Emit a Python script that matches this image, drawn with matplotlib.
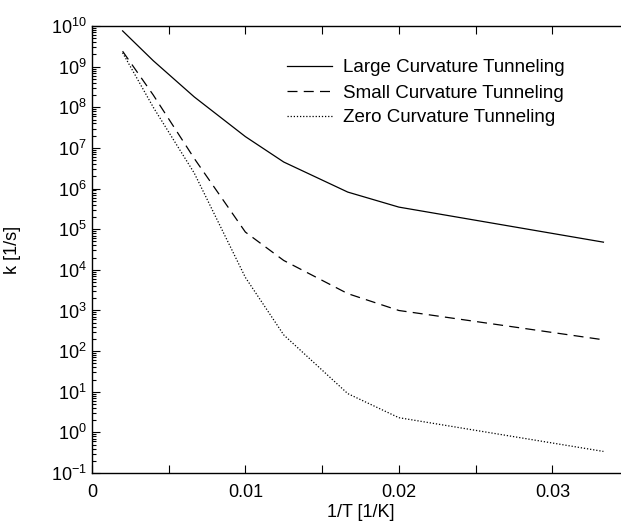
import matplotlib
matplotlib.use("Agg")
import matplotlib.pyplot as plt
from matplotlib.ticker import LogLocator, MultipleLocator, NullFormatter

plt.rcParams["font.family"] = ["Liberation Sans", "DejaVu Sans"]
plt.rcParams["mathtext.fontset"] = "custom"
plt.rcParams["mathtext.rm"] = "Liberation Sans"
plt.rcParams["mathtext.it"] = "Liberation Sans:italic"

inv_t = [0.002, 0.004, 0.00667, 0.01, 0.0125, 0.01667, 0.02, 0.03333]
large_ct = [7.6e9, 1.4e9, 1.8e8, 1.9e7, 4.5e6, 8.2e5, 3.5e5, 4.8e4]
small_ct = [2.4e9, 2.0e8, 5.5e6, 8.5e4, 1.7e4, 2.6e3, 1.0e3, 1.9e2]
zero_ct = [2.2e9, 1.0e8, 2.4e6, 6.5e3, 2.5e2, 9.0, 2.3, 0.34]
xtick_vals = [0, 0.01, 0.02, 0.03]
xtick_labels = ["0", "0.01", "0.02", "0.03"]

fig = plt.figure(figsize=(6.21, 5.25), dpi=100)
ax = fig.add_axes([0.148, 0.099, 0.865, 0.8514])

ax.plot(inv_t, large_ct, color="black", lw=0.9, label="Large Curvature Tunneling")
ax.plot(inv_t, small_ct, color="black", lw=0.9, dashes=(8, 5),
        label="Small Curvature Tunneling")
ax.plot(inv_t, zero_ct, color="black", lw=0.9, dashes=(1, 1.5),
        label="Zero Curvature Tunneling")

ax.set_yscale("log")
ax.set_ylim(1e-1, 1e10)
ax.set_xlim(0, 0.035)
ax.yaxis.set_major_locator(LogLocator(base=10, numticks=20))
ax.yaxis.set_minor_locator(LogLocator(base=10, subs=range(2, 10), numticks=20))
ax.yaxis.set_minor_formatter(NullFormatter())
ax.set_xticks(xtick_vals)
ax.set_xticklabels(xtick_labels)
ax.xaxis.set_minor_locator(MultipleLocator(0.005))

ax.tick_params(which="both", direction="in", top=True, right=False,
               labelsize=13, width=0.8)
ax.tick_params(which="major", length=6)
ax.tick_params(which="minor", length=3)
ax.tick_params(axis="x", which="minor", length=6)
ax.tick_params(axis="x", pad=8)
ax.spines["right"].set_visible(False)
for s in ["left", "top", "bottom"]:
    ax.spines[s].set_linewidth(1.0)

ax.set_xlabel("1/T [1/K]", fontsize=13, labelpad=2)
ax.set_ylabel("k [1/s]", fontsize=13, labelpad=22)

ax.legend(loc="upper left", bbox_to_anchor=(278 / 621, 1 - 50 / 525),
          bbox_transform=fig.transFigure, frameon=False, fontsize=13.5,
          handlelength=2.4, handletextpad=0.55, labelspacing=0.42, borderpad=0)

fig.savefig("out.png", dpi=100)
